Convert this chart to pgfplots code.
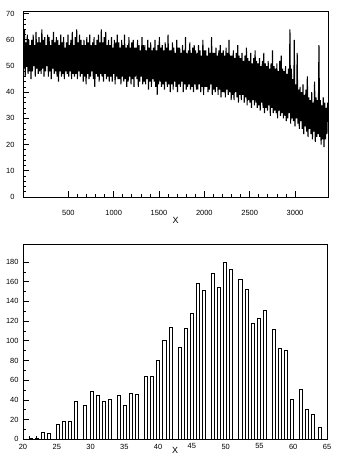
\documentclass[border=0pt]{standalone}
\usepackage{fontspec}
\setmainfont{Liberation Sans}
\usepackage{pgfplots}
\pgfplotsset{compat=1.18}
\begin{document}
\begin{tikzpicture}
\useasboundingbox (0,0) rectangle (352bp,470bp);
\pgfplotsset{rootstyle/.style={
  scale only axis, axis line style={line width=0.8bp}, tick pos=left, tick align=inside,
  major tick length=6bp, minor tick length=3bp,
  every tick/.style={black,line width=0.7bp},
  ticklabel style={font=\fontsize{7.5}{8}\selectfont},
  /pgf/number format/assume math mode=true,
  /pgf/number format/1000 sep={},
  xlabel={X}, label style={font=\fontsize{9}{10}\selectfont},
}}
\begin{axis}[rootstyle, anchor=south west, at={(23bp,273bp)}, width=305bp, height=186bp,
  xmin=0,xmax=3364,ymin=0,ymax=71,
  xtick={500,1000,...,3000}, ytick={0,10,...,70}, minor x tick num=4, minor y tick num=4,
  xticklabel style={yshift=-10bp}, yticklabel style={xshift=-5bp},
  xlabel style={at={(axis description cs:0.5,0)},anchor=center,yshift=-23.3bp}]
\addplot[black, line width=1.1bp, line join=bevel, no markers] table[header=false, row sep=\\, x expr=\coordindex*8, y index=0] {
61\\49\\64\\46\\59\\50\\62\\47\\60\\48\\58\\45\\
60\\48\\62\\50\\58\\46\\63\\49\\59\\47\\61\\48\\
59\\47\\64\\49\\60\\46\\61\\48\\58\\50\\62\\46\\
61\\48\\58\\45\\60\\49\\63\\47\\59\\48\\61\\46\\
60\\44\\58\\48\\62\\46\\59\\47\\61\\45\\57\\48\\
59\\47\\62\\46\\58\\48\\60\\45\\63\\47\\58\\46\\
61\\47\\64\\45\\59\\48\\62\\46\\60\\47\\58\\44\\
60\\46\\58\\43\\61\\47\\59\\45\\62\\46\\58\\48\\
59\\45\\61\\42\\58\\47\\60\\46\\62\\44\\59\\47\\
64\\46\\59\\44\\61\\47\\63\\45\\58\\46\\60\\44\\
58\\46\\61\\44\\57\\47\\60\\43\\59\\46\\62\\45\\
59\\45\\57\\43\\60\\46\\58\\44\\62\\45\\57\\42\\
58\\44\\61\\46\\57\\43\\59\\45\\60\\42\\57\\46\\
57\\45\\60\\42\\58\\44\\56\\46\\61\\43\\58\\44\\
58\\43\\56\\45\\60\\41\\57\\44\\59\\42\\56\\45\\
57\\44\\60\\42\\56\\39\\58\\43\\61\\44\\57\\42\\
58\\43\\56\\41\\59\\44\\57\\42\\62\\43\\56\\40\\
56\\43\\59\\41\\57\\44\\55\\42\\60\\40\\57\\43\\
57\\42\\55\\44\\58\\40\\56\\43\\61\\41\\55\\42\\
56\\43\\59\\41\\55\\42\\57\\40\\58\\43\\56\\41\\
55\\41\\58\\43\\56\\40\\54\\42\\60\\39\\56\\42\\
56\\42\\54\\40\\57\\41\\55\\43\\61\\39\\55\\41\\
55\\40\\57\\42\\54\\39\\56\\41\\58\\38\\55\\40\\
56\\40\\54\\38\\57\\41\\55\\39\\60\\40\\54\\37\\
54\\39\\56\\37\\53\\40\\55\\38\\58\\36\\54\\39\\
53\\37\\55\\39\\52\\36\\54\\38\\57\\35\\53\\37\\
52\\36\\55\\34\\51\\37\\53\\35\\56\\36\\52\\34\\
51\\35\\53\\33\\50\\36\\52\\34\\55\\32\\51\\34\\
50\\33\\52\\35\\49\\31\\51\\34\\56\\32\\50\\33\\
49\\32\\51\\30\\48\\33\\52\\31\\54\\32\\49\\30\\
48\\31\\50\\29\\47\\30\\49\\32\\64\\28\\49\\30\\
45\\29\\60\\27\\43\\30\\55\\28\\41\\26\\42\\29\\
40\\26\\43\\24\\39\\27\\41\\25\\46\\23\\38\\26\\
37\\24\\40\\22\\36\\25\\44\\21\\38\\23\\37\\24\\
58\\23\\37\\20\\35\\22\\38\\19\\36\\22\\34\\24\\
36\\
};
\end{axis}
\begin{axis}[rootstyle, anchor=south west, at={(23bp,30.7bp)}, width=304bp, height=195bp,
  xmin=20,xmax=65,ymin=0,ymax=198,
  xtick={20,25,...,65}, ytick={0,20,...,180}, minor x tick num=4, minor y tick num=1,
  xticklabel style={yshift=-1bp}, yticklabel style={xshift=-1bp},
  xlabel style={at={(axis description cs:0.5,0)},anchor=center,yshift=-10.7bp}]
\addplot[ybar, bar width=0.45, draw=black, fill=white, line width=0.7bp] coordinates {
(21.125,1) (22.025,1) (22.925,7) (23.825,6) (25.175,15) (26.075,18) (26.975,18) (27.875,39)
(29.225,34) (30.125,49) (31.025,45) (31.925,39) (32.825,41) (34.175,45) (35.075,34) (35.975,47)
(36.875,46) (38.225,64) (39.125,64) (40.025,80) (40.925,100) (41.825,114) (43.175,93) (44.075,113)
(44.975,128) (45.875,158) (46.775,151) (48.125,168) (49.025,154) (49.925,180) (50.825,173) (52.175,162)
(53.075,152) (53.975,118) (54.875,123) (55.775,131) (57.125,112) (58.025,92) (58.925,90) (59.825,41)
(61.175,51) (62.075,30) (62.975,25) (63.875,12)
};
\end{axis}
\end{tikzpicture}
\end{document}
